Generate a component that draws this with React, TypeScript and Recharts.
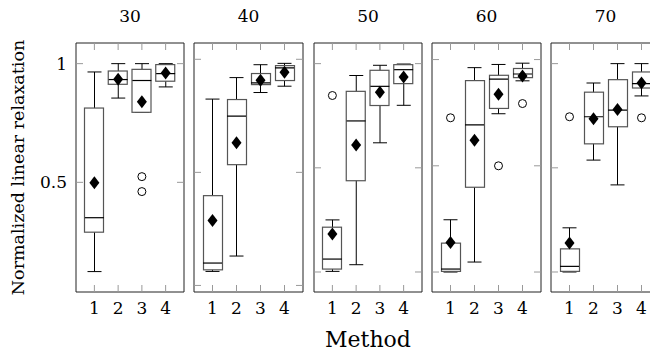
import React from 'react'
import { ComposedChart, Bar, Scatter, XAxis, YAxis } from 'recharts'

const methods = ['1', '2', '3', '4']
const sizes = ['30', '40', '50', '60', '70']

// box plot statistics: one row per panel, one value per method
const whiskerLow = [
  [0.124, 0.855, 0.795, 0.902],
  [0.062, 0.13, 0.853, 0.881],
  [0.003, 0.035, 0.62, 0.8],
  [0.0, 0.047, 0.745, 0.9],
  [0.0, 0.537, 0.418, 0.845],
]
const lowerQuartile = [
  [0.29, 0.913, 0.795, 0.926],
  [0.069, 0.534, 0.888, 0.906],
  [0.014, 0.438, 0.799, 0.904],
  [0.003, 0.399, 0.77, 0.915],
  [0.003, 0.615, 0.697, 0.883],
]
const medians = [
  [0.351, 0.933, 0.929, 0.958],
  [0.099, 0.749, 0.896, 0.962],
  [0.062, 0.725, 0.891, 0.971],
  [0.014, 0.693, 0.908, 0.932],
  [0.027, 0.745, 0.777, 0.904],
]
const upperQuartile = [
  [0.813, 0.969, 0.976, 0.996],
  [0.397, 0.822, 0.937, 0.972],
  [0.215, 0.867, 0.968, 0.995],
  [0.136, 0.901, 0.926, 0.958],
  [0.111, 0.863, 0.923, 0.96],
]
const whiskerHigh = [
  [0.965, 1.0, 1.0, 1.0],
  [0.824, 0.919, 0.976, 0.982],
  [0.25, 0.943, 0.992, 0.998],
  [0.246, 0.962, 0.977, 0.983],
  [0.212, 0.907, 1.0, 1.0],
]
const means = [
  [0.498, 0.934, 0.84, 0.961],
  [0.287, 0.631, 0.907, 0.943],
  [0.182, 0.609, 0.863, 0.936],
  [0.139, 0.62, 0.837, 0.923],
  [0.139, 0.735, 0.78, 0.907],
]
const outliers = [
  [[], [], [0.524, 0.461], []],
  [[], [], [], []],
  [[0.847], [], [], []],
  [[0.726], [], [0.5], [0.793]],
  [[0.745], [], [], [0.74]],
]

// each panel has its own y range, like the original group plot
const yDomains = [
  [0.038, 1.087],
  [-0.029, 1.072],
  [-0.096, 1.099],
  [-0.094, 1.078],
  [-0.096, 1.099],
]
const yTicks = [0, 0.5, 1]

const panelLeft = [76, 194, 314, 432, 551]
const panelWidth = [108, 109, 108, 109, 109]
const plotTop = 43
const plotBottom = 292
const chartHeight = 352
const firstAxisWidth = 76
const font = "'DejaVu Serif', serif"
const tickLen = 7
const tickColor = '#999'
const frameColor = '#222'

const boxWidth = 19
const capWidth = 14

function buildRows(p: number) {
  return methods.map((m, j) => ({
    m,
    whisker: [whiskerLow[p][j], whiskerHigh[p][j]],
    box: [lowerQuartile[p][j], upperQuartile[p][j]],
    median: medians[p][j],
    mean: means[p][j],
    out1: outliers[p][j][0] ?? null,
    out2: outliers[p][j][1] ?? null,
  }))
}

// inward tick marks, pgfplots style
const BottomTick = (props: any) => {
  const { x, y, payload } = props
  return (
    <g>
      <line x1={x} x2={x} y1={y} y2={y - tickLen} stroke={tickColor} />
      <text x={x} y={y + 22} textAnchor="middle" fontSize={17} fontFamily={font} fill="#000">
        {payload.value}
      </text>
    </g>
  )
}
const TopTick = (props: any) => {
  const { x, y } = props
  return <line x1={x} x2={x} y1={y} y2={y + tickLen} stroke={tickColor} />
}
const LeftTick = (props: any) => {
  const { x, y, payload, showLabel } = props
  return (
    <g>
      <line x1={x} x2={x + tickLen} y1={y} y2={y} stroke={tickColor} />
      {showLabel && (
        <text x={x - 9} y={y + 6} textAnchor="end" fontSize={17} fontFamily={font} fill="#000">
          {payload.value}
        </text>
      )}
    </g>
  )
}
const RightTick = (props: any) => {
  const { x, y } = props
  return <line x1={x} x2={x - tickLen} y1={y} y2={y} stroke={tickColor} />
}

const WhiskerShape = (props: any) => {
  const { x, y, width, height } = props
  if (x == null || y == null) return <g />
  const top = Math.min(y, y + height)
  const bottom = Math.max(y, y + height)
  const cx = x + width / 2
  return (
    <g stroke="#000" strokeWidth={1}>
      <line x1={cx} x2={cx} y1={top} y2={bottom} />
      <line x1={x} x2={x + width} y1={top} y2={top} />
      <line x1={x} x2={x + width} y1={bottom} y2={bottom} />
    </g>
  )
}

const BoxShape = (props: any) => {
  const { x, y, width, height } = props
  if (x == null || y == null) return <g />
  return (
    <rect
      x={x}
      y={Math.min(y, y + height)}
      width={width}
      height={Math.abs(height)}
      fill="#fff"
      stroke="#555"
      strokeWidth={1.2}
    />
  )
}

const MedianShape = (props: any) => {
  const { cx, cy } = props
  if (!isFinite(cx) || !isFinite(cy)) return <g />
  return <line x1={cx - boxWidth / 2} x2={cx + boxWidth / 2} y1={cy} y2={cy} stroke="#000" strokeWidth={1.2} />
}

const MeanShape = (props: any) => {
  const { cx, cy } = props
  if (!isFinite(cx) || !isFinite(cy)) return <g />
  return <polygon points={`${cx},${cy - 6.5} ${cx + 5},${cy} ${cx},${cy + 6.5} ${cx - 5},${cy}`} fill="#000" />
}

const outlierShape = (key: string) => (props: any) => {
  const { cx, cy, payload } = props
  if (!payload || payload[key] == null || !isFinite(cy)) return <g />
  return <circle cx={cx} cy={cy} r={4} fill="#fff" stroke="#000" strokeWidth={1} />
}

function Panel({ index }: { index: number }) {
  const rows = buildRows(index)
  const first = index === 0
  const axisW = first ? firstAxisWidth : 1
  const left = panelLeft[index] - axisW
  const width = panelWidth[index] + axisW + 1
  const [lo, hi] = yDomains[index]
  const ticks = yTicks.filter(t => t >= lo && t <= hi)
  const pad = { left: 6.5, right: 6.5 }
  const axisLine = { stroke: frameColor }

  return (
    <div style={{ position: 'absolute', left, top: 0 }}>
      {/* panel title */}
      <div
        style={{
          position: 'absolute',
          left: axisW,
          width: panelWidth[index],
          top: 6,
          textAlign: 'center',
          fontSize: 17,
          lineHeight: '20px',
          color: '#000',
        }}
      >
        {sizes[index]}
      </div>
      <ComposedChart
        width={width}
        height={chartHeight}
        data={rows}
        margin={{ top: plotTop - 1, right: 0, bottom: 0, left: 0 }}
      >
        <XAxis
          xAxisId="bottom"
          dataKey="m"
          height={chartHeight - plotBottom}
          padding={pad}
          interval={0}
          tickSize={0}
          tickMargin={0}
          tickLine={false}
          axisLine={axisLine}
          tick={<BottomTick />}
          label={
            index === 2
              ? (p: any) => {
                  const vb = p.viewBox || {}
                  const cx = vb.x != null ? vb.x + vb.width / 2 : axisW + panelWidth[index] / 2
                  return (
                    <text x={cx} y={347} textAnchor="middle" fontSize={22} fontFamily={font} fill="#000">
                      Method
                    </text>
                  )
                }
              : undefined
          }
        />
        <XAxis
          xAxisId="top"
          dataKey="m"
          orientation="top"
          height={1}
          padding={pad}
          interval={0}
          tickSize={0}
          tickMargin={0}
          tickLine={false}
          axisLine={axisLine}
          tick={<TopTick />}
        />
        <YAxis
          yAxisId="left"
          type="number"
          domain={yDomains[index]}
          allowDataOverflow
          ticks={ticks}
          interval={0}
          width={axisW}
          tickSize={0}
          tickMargin={0}
          tickLine={false}
          axisLine={axisLine}
          tick={<LeftTick showLabel={first} />}
          label={
            first
              ? () => (
                  <text
                    x={18}
                    y={(plotTop + plotBottom) / 2}
                    transform={`rotate(-90, 18, ${(plotTop + plotBottom) / 2})`}
                    textAnchor="middle"
                    dominantBaseline="central"
                    fontSize={17.5}
                    fontFamily={font}
                    fill="#000"
                  >
                    Normalized linear relaxation
                  </text>
                )
              : undefined
          }
        />
        <YAxis
          yAxisId="right"
          orientation="right"
          type="number"
          domain={yDomains[index]}
          allowDataOverflow
          ticks={ticks}
          interval={0}
          width={1}
          tickSize={0}
          tickMargin={0}
          tickLine={false}
          axisLine={axisLine}
          tick={<RightTick />}
        />
        <Bar
          xAxisId="bottom"
          yAxisId="right"
          dataKey="whisker"
          barSize={capWidth}
          shape={WhiskerShape}
          isAnimationActive={false}
        />
        <Bar
          xAxisId="top"
          yAxisId="left"
          dataKey="box"
          barSize={boxWidth}
          shape={BoxShape}
          isAnimationActive={false}
        />
        <Scatter xAxisId="bottom" yAxisId="left" dataKey="median" shape={MedianShape} isAnimationActive={false} />
        <Scatter xAxisId="bottom" yAxisId="left" dataKey="mean" shape={MeanShape} isAnimationActive={false} />
        <Scatter xAxisId="bottom" yAxisId="left" dataKey="out1" shape={outlierShape('out1')} isAnimationActive={false} />
        <Scatter xAxisId="bottom" yAxisId="left" dataKey="out2" shape={outlierShape('out2')} isAnimationActive={false} />
      </ComposedChart>
    </div>
  )
}

export default function App() {
  return (
    <div
      style={{
        position: 'fixed',
        left: 0,
        top: 0,
        width: 650,
        height: 352,
        overflow: 'hidden',
        background: '#fff',
        fontFamily: font,
      }}
    >
      {sizes.map((s, i) => (
        <Panel key={s} index={i} />
      ))}
    </div>
  )
}
